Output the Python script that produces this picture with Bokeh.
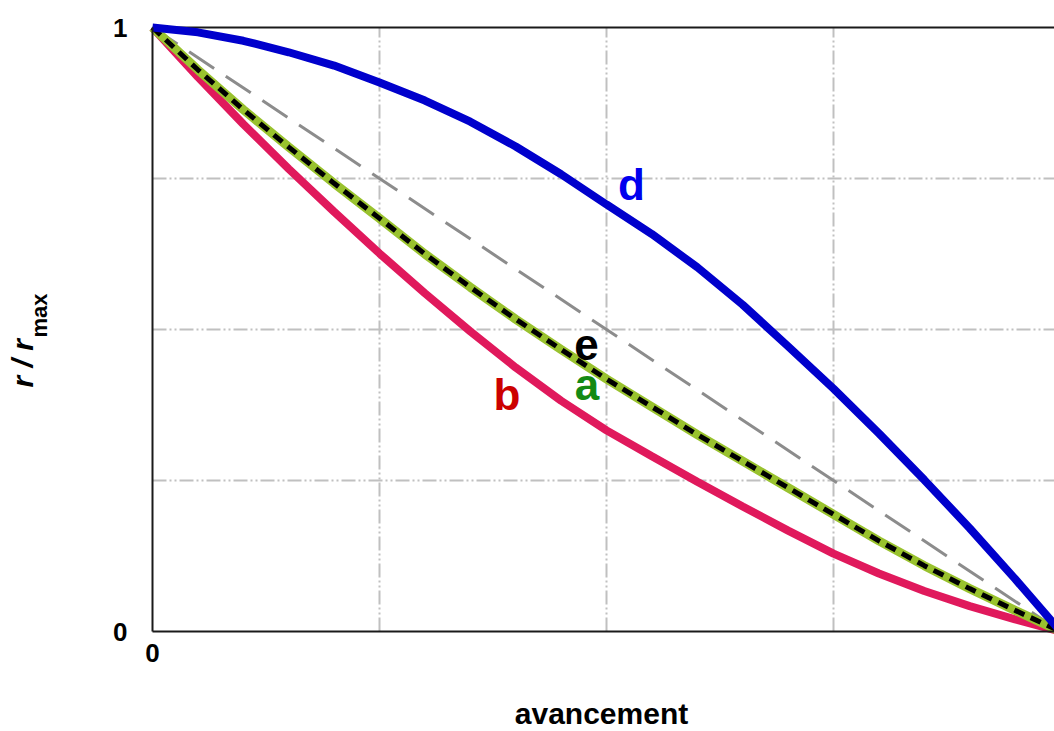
from bokeh.plotting import figure
from bokeh.models import Range1d, FixedTicker, Label
from bokeh.embed import file_html
from bokeh.resources import INLINE

# Reaction progress (0 = start, 1 = complete conversion)
progress = [0.00, 0.05, 0.10, 0.15, 0.20, 0.25, 0.30, 0.35, 0.40, 0.45, 0.50,
            0.55, 0.60, 0.65, 0.70, 0.75, 0.80, 0.85, 0.90, 0.95, 1.00]

# Relative rate r / r_max for each case
rate_a = [1.000, 0.930, 0.864, 0.802, 0.742, 0.684, 0.625, 0.570, 0.517, 0.467, 0.418,
          0.372, 0.326, 0.282, 0.238, 0.194, 0.150, 0.109, 0.071, 0.035, 0.000]
rate_b = [1.000, 0.918, 0.840, 0.766, 0.695, 0.626, 0.560, 0.497, 0.437, 0.382, 0.333,
          0.290, 0.248, 0.207, 0.167, 0.129, 0.096, 0.067, 0.042, 0.020, 0.000]
rate_d = [1.000, 0.992, 0.978, 0.959, 0.937, 0.909, 0.879, 0.844, 0.803, 0.757, 0.707,
          0.658, 0.603, 0.541, 0.472, 0.402, 0.328, 0.251, 0.171, 0.087, 0.000]
rate_e = [1.000, 0.930, 0.864, 0.802, 0.742, 0.684, 0.625, 0.570, 0.517, 0.467, 0.418,
          0.372, 0.326, 0.282, 0.238, 0.194, 0.150, 0.109, 0.071, 0.035, 0.000]

# Straight reference line
linear_x = [0.0, 1.0]
linear_y = [1.0, 0.0]

# Axis ticks and grid positions
axis_ticks = [0, 1]
grid_ticks = [0.25, 0.5, 0.75]

W, H = 1054, 731
LEFT, TOP, BOTTOM = 152, 27, 100      # margins around the unit square (px)
PX_X, PX_Y = 908, 604                 # pixels per unit along x and y

p = figure(width=W, height=H,
           x_range=Range1d(-LEFT / PX_X, (W - LEFT) / PX_X),
           y_range=Range1d(-BOTTOM / PX_Y, 1 + TOP / PX_Y),
           output_backend="svg", toolbar_location=None,
           min_border_left=0, min_border_right=0, min_border_top=0, min_border_bottom=0)
p.outline_line_color = None
p.background_fill_color = "white"
p.border_fill_color = "white"
p.xgrid.visible = False
p.ygrid.visible = False

# dash-dot-dot light grey grid inside the unit square
grid_style = dict(line_color="#c0c0c0", line_width=2, line_dash="14 3 2 3 2 3")
p.segment(x0=grid_ticks, y0=[0] * 3, x1=grid_ticks, y1=[1] * 3, **grid_style)
p.segment(x0=[0] * 3, y0=grid_ticks, x1=[1] * 3, y1=grid_ticks, **grid_style)

# axes pinned to the origin
for ax in (p.xaxis[0], p.yaxis[0]):
    ax.fixed_location = 0
    ax.bounds = (0, 1)
    ax.ticker = FixedTicker(ticks=axis_ticks)
    ax.axis_line_color = "#1a1a1a"
    ax.axis_line_width = 2
    ax.major_tick_out = 0
    ax.major_tick_in = 0
    ax.minor_tick_out = 0
    ax.minor_tick_in = 0
    ax.major_label_text_font = "Liberation Sans"
    ax.major_label_text_font_style = "bold"
    ax.major_label_text_font_size = "26px"
    ax.major_label_text_color = "black"
p.xaxis[0].major_label_standoff = 12
p.yaxis[0].major_label_standoff = 25

# top border of the box
p.line([0, 1], [1, 1], line_color="#1a1a1a", line_width=2)

# curves
p.line(linear_x, linear_y, line_color="#8c8c8c", line_width=3, line_dash="30 14")
p.line(progress, rate_b, line_color="#e0195c", line_width=8)
p.line(progress, rate_a, line_color="#99c22e", line_width=9)
p.line(progress, rate_e, line_color="black", line_width=5, line_dash="11 7")
p.line(progress, rate_d, line_color="#0000cc", line_width=8)

# curve tags
def tag(txt, x, y, color):
    p.add_layout(Label(x=x, y=y, text=txt, text_color=color, text_font="Liberation Sans",
                       text_font_style="bold", text_font_size="44px",
                       text_align="center", text_baseline="alphabetic"))

tag("d", 0.5275, 0.740, "#0000ee")
tag("e", 0.4780, 0.475, "black")
tag("a", 0.4785, 0.409, "#148a14")
tag("b", 0.3904, 0.3925, "#cc0000")

# axis titles
p.add_layout(Label(x=0.4945, y=-0.1358, text="avancement", text_color="black",
                   text_font="Liberation Sans", text_font_style="bold",
                   text_font_size="30px", text_align="center", text_baseline="alphabetic"))
p.add_layout(Label(x=-0.1432, y=0.404, text="r / r", angle=1.5707963, text_color="black",
                   text_font="Liberation Sans", text_font_style="bold italic",
                   text_font_size="30px", text_align="left", text_baseline="alphabetic"))
p.add_layout(Label(x=-0.1244, y=0.4868, text="max", angle=1.5707963, text_color="black",
                   text_font="Liberation Sans", text_font_style="bold",
                   text_font_size="22px", text_align="left", text_baseline="alphabetic"))

open("out.html", "w").write(file_html(p, INLINE))
